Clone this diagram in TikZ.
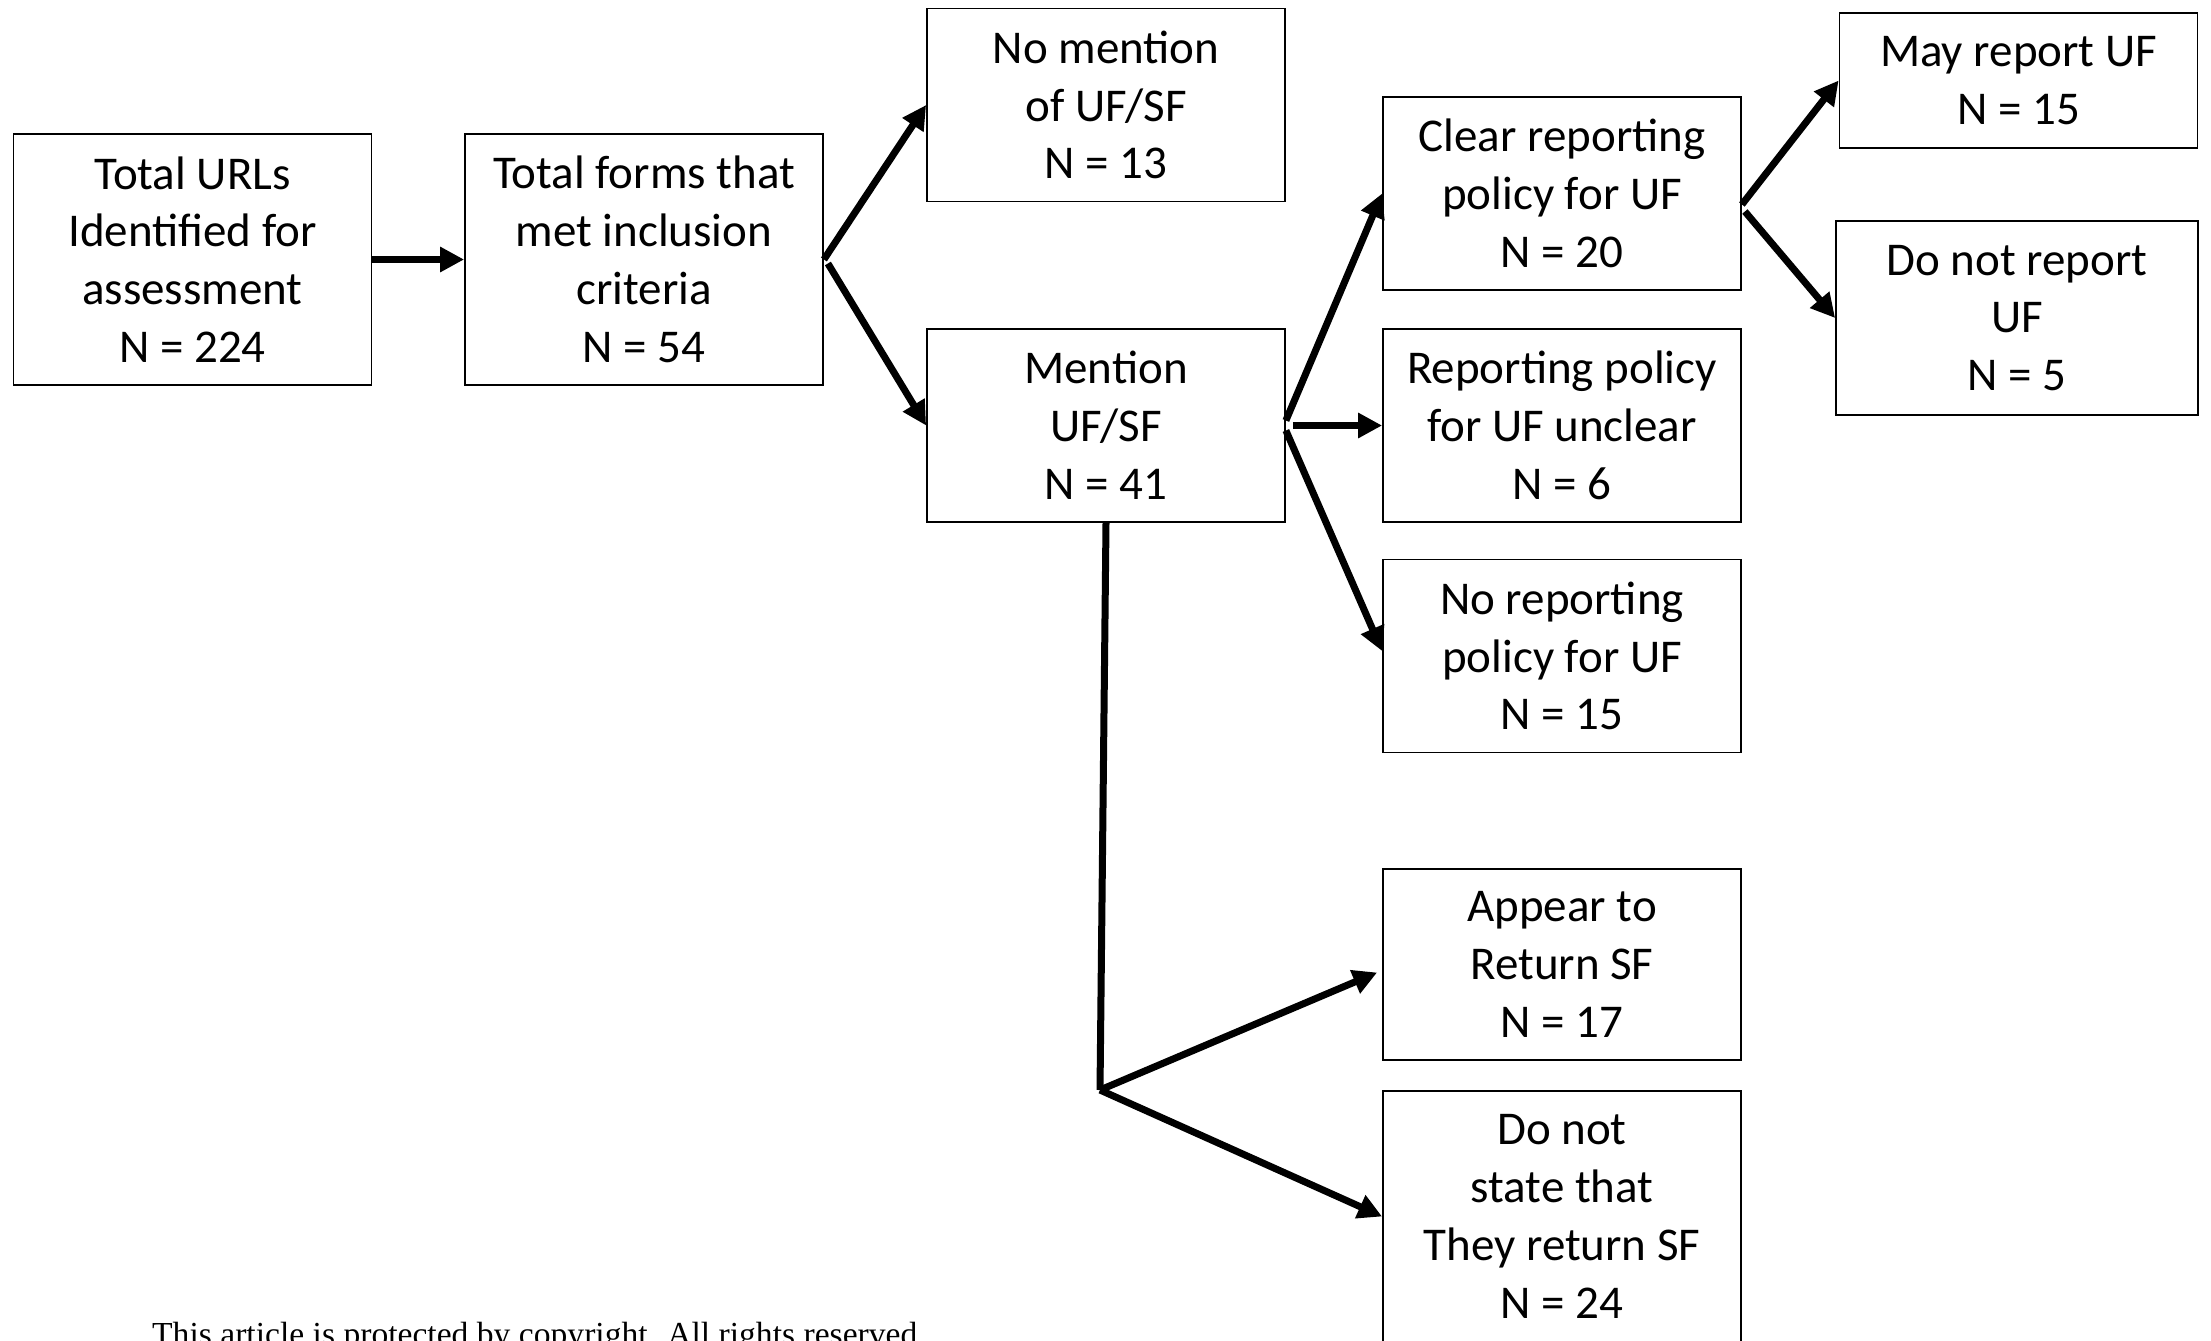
\documentclass[tikz,border=0pt]{standalone}
\usepackage{fontspec}
\setmainfont{Carlito}
\newfontfamily\footfont{Liberation Serif}
\usetikzlibrary{arrows.meta,positioning}

\begin{document}
\begin{tikzpicture}[x=1pt,y=-1pt,
  box/.style={draw, line width=1.8pt, align=center, inner sep=0pt,
    minimum width=358pt, minimum height=193pt,
    font=\fontsize{47}{57.8}\selectfont},
  arr/.style={line width=7pt, -{Triangle[length=24pt,width=24pt]}}]
\useasboundingbox (0,0) rectangle (2211,1341);

% First stage
\node[box, minimum height=251pt] (urls) at (192.5,259.5) {Total URLs\\Identified for\\assessment\\N = 224};
\node[box, minimum height=251pt] (forms) at (644,259.5) {Total forms that\\met inclusion\\criteria\\N = 54};

% UF/SF mention
\node[box] (nomention) at (1106,105) {No mention\\of UF/SF\\N = 13};
\node[box] (mention) at (1106,425.5) {Mention\\UF/SF\\N = 41};

% Reporting policy
\node[box] (clear) at (1562,193.5) {Clear reporting\\policy for UF\\N = 20};
\node[box] (unclear) at (1562,425.5) {Reporting policy\\for UF unclear\\N = 6};
\node[box] (nopolicy) at (1562,656) {No reporting\\policy for UF\\N = 15};

% Reporting of UF
\node[box, minimum height=135pt] (may) at (2018.5,80.5) {May report UF\\N = 15};
\node[box, minimum width=362pt, minimum height=194pt] (donot) at (2017,318) {Do not report\\UF\\N = 5};

% Return of SF
\node[box, minimum height=191pt] (appear) at (1562,964.5) {Appear to\\Return SF\\N = 17};
\node[box, minimum height=251pt] (nostate) at (1562,1216.5) {Do not\\state that\\They return SF\\N = 24};

% Footer
\node[anchor=base west, inner sep=0pt, font=\footfont\fontsize{33.6}{40}\selectfont] (note) at (152,1345) {This article is protected by copyright. All rights reserved.};

% Connectors
\draw[arr] (urls) -- (forms);
\draw[arr] (forms.east) -- (nomention.west);
\draw[arr] ([shift={(4,4)}]forms.east) -- (mention.west);
\draw[arr] ([shift={(0,-5)}]mention.east) -- (clear.west);
\draw[arr] ([shift={(7,0)}]mention.east) -- (unclear.west);
\draw[arr] ([shift={(0,5)}]mention.east) -- ([shift={(0,-5)}]nopolicy.west);
\draw[arr] ([shift={(0,11)}]clear.east) -- (may.west);
\draw[arr] ([shift={(3,18)}]clear.east) -- (donot.west);

\coordinate (fork) at (1100,1090);
\draw[line width=7pt] (mention.south) -- (fork);
\draw[arr] (fork) -- ([shift={(-5,8)}]appear.west);
\draw[arr] (fork) -- (nostate.west);
\end{tikzpicture}
\end{document}
